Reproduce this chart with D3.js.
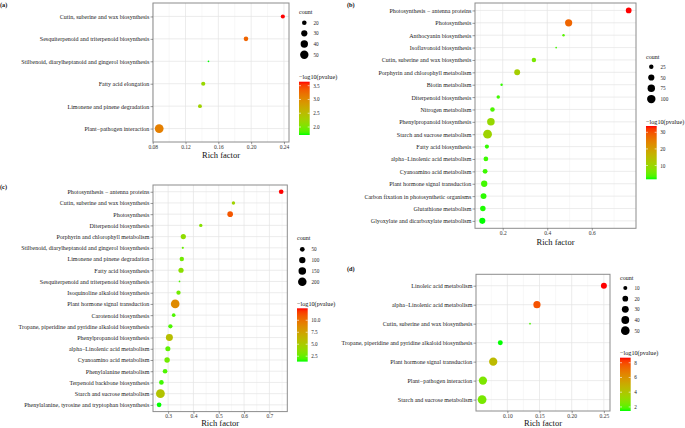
<!DOCTYPE html>
<html><head><meta charset="utf-8">
<script src="https://cdn.jsdelivr.net/npm/d3@7"></script>
<style>
body{margin:0;background:#fff}
svg{display:block;font-family:"Liberation Serif","Times New Roman",serif}
</style>
</head><body>
<svg id="chart" width="685" height="428"></svg>
<script>
// ---------- Panel (a) ----------
const aPathways = ["Cutin, suberine and wax biosynthesis","Sesquiterpenoid and triterpenoid biosynthesis","Stilbenoid, diarylheptanoid and gingerol biosynthesis","Fatty acid elongation","Limonene and pinene degradation","Plant−pathogen interaction"];
const aRich = [0.2386, 0.1937, 0.1480, 0.1416, 0.1376, 0.0879];
const aCount = [18, 20, 13, 18, 17, 55];
const aLogP = [3.645, 3.30, 1.71, 2.20, 2.25, 3.10];
const aXTicks = [0.08, 0.12, 0.16, 0.20, 0.24];
const aXLabels = ["0.08","0.12","0.16","0.20","0.24"];
const aCountBreaks = [20, 30, 40, 50];
const aColorBreaks = [2.0, 2.5, 3.0, 3.5];
const aColorLabels = ["2.0","2.5","3.0","3.5"];

// ---------- Panel (b) ----------
const bPathways = ["Photosynthesis − antenna proteins","Photosynthesis","Anthocyanin biosynthesis","Isoflavonoid biosynthesis","Cutin, suberine and wax biosynthesis","Porphyrin and chlorophyll metabolism","Biotin metabolism","Diterpenoid biosynthesis","Nitrogen metabolism","Phenylpropanoid biosynthesis","Starch and sucrose metabolism","Fatty acid biosynthesis","alpha−Linolenic acid metabolism","Cyanoamino acid metabolism","Plant hormone signal transduction","Carbon fixation in photosynthetic organisms","Glutathione metabolism","Glyoxylate and dicarboxylate metabolism"];
const bRich = [0.7655, 0.4960, 0.4730, 0.4400, 0.3400, 0.2650, 0.1950, 0.1800, 0.1540, 0.1470, 0.1320, 0.1290, 0.1245, 0.1210, 0.1170, 0.1140, 0.1110, 0.1085];
const bCount = [42, 70, 11, 10, 25, 45, 11, 16, 26, 78, 110, 22, 28, 30, 52, 46, 38, 48];
const bLogP = [33.8, 28.0, 4.0, 3.0, 6.5, 11.5, 2.5, 3.0, 3.5, 9.5, 10.5, 2.5, 2.8, 2.8, 3.0, 2.3, 2.0, 1.7];
const bXTicks = [0.2, 0.4, 0.6];
const bXLabels = ["0.2","0.4","0.6"];
const bCountBreaks = [25, 50, 75, 100];
const bColorBreaks = [10, 20, 30];
const bColorLabels = ["10","20","30"];

// ---------- Panel (c) ----------
const cPathways = ["Photosynthesis − antenna proteins","Cutin, suberine and wax biosynthesis","Photosynthesis","Diterpenoid biosynthesis","Porphyrin and chlorophyll metabolism","Stilbenoid, diarylheptanoid and gingerol biosynthesis","Limonene and pinene degradation","Fatty acid biosynthesis","Sesquiterpenoid and triterpenoid biosynthesis","Isoquinoline alkaloid biosynthesis","Plant hormone signal transduction","Carotenoid biosynthesis","Tropane, piperidine and pyridine alkaloid biosynthesis","Phenylpropanoid biosynthesis","alpha−Linolenic acid metabolism","Cyanoamino acid metabolism","Phenylalanine metabolism","Terpenoid backbone biosynthesis","Starch and sucrose metabolism","Phenylalanine, tyrosine and tryptophan biosynthesis"];
const cRich = [0.7466, 0.5580, 0.5450, 0.4290, 0.3600, 0.3580, 0.3540, 0.3510, 0.3450, 0.3410, 0.3280, 0.3220, 0.3090, 0.3050, 0.2990, 0.2960, 0.2880, 0.2735, 0.2696, 0.2644];
const cCount = [48, 24, 75, 24, 62, 14, 42, 62, 13, 40, 205, 28, 40, 125, 58, 68, 48, 48, 215, 50];
const cLogP = [12.5, 4.5, 11.0, 3.5, 3.8, 2.5, 2.8, 3.6, 2.0, 2.8, 8.8, 2.0, 2.0, 5.8, 2.3, 2.8, 2.0, 1.8, 5.5, 1.375];
const cXTicks = [0.3, 0.4, 0.5, 0.6, 0.7];
const cXLabels = ["0.3","0.4","0.5","0.6","0.7"];
const cCountBreaks = [50, 100, 150, 200];
const cColorBreaks = [2.5, 5.0, 7.5, 10.0];
const cColorLabels = ["2.5","5.0","7.5","10.0"];

// ---------- Panel (d) ----------
const dPathways = ["Linoleic acid metabolism","alpha−Linolenic acid metabolism","Cutin, suberine and wax biosynthesis","Tropane, piperidine and pyridine alkaloid biosynthesis","Plant hormone signal transduction","Plant−pathogen interaction","Starch and sucrose metabolism"];
const dRich = [0.2501, 0.1460, 0.1352, 0.0890, 0.0780, 0.0620, 0.0607];
const dCount = [22, 33, 5, 15, 45, 45, 52];
const dLogP = [8.68, 7.8, 1.8, 1.45, 4.5, 2.6, 2.5];
const dXTicks = [0.10, 0.15, 0.20, 0.25];
const dXLabels = ["0.10","0.15","0.20","0.25"];
const dCountBreaks = [10, 20, 30, 40, 50];
const dColorBreaks = [2, 4, 6, 8];
const dColorLabels = ["2","4","6","8"];

// ---------- layout (positions only) ----------
const layouts = [
  {tag:"(a)", tagX:0, tagY:4, left:153, right:289, top:3, bottom:142, titleDy:13.3, legX:299, cntTitleY:12.3, dotY0:22.7, dotStep:10.67, barTitleY:76.7, barTop:81.7,
   pathways:aPathways, rich:aRich, count:aCount, logp:aLogP, xt:aXTicks, xl:aXLabels, cb:aCountBreaks, colb:aColorBreaks, coll:aColorLabels},
  {tag:"(b)", tagX:347, tagY:4, left:475, right:636, top:3, bottom:228.3, titleDy:14, legX:646, cntTitleY:56.7, dotY0:66.7, dotStep:10.8, barTitleY:121.3, barTop:126,
   pathways:bPathways, rich:bRich, count:bCount, logp:bLogP, xt:bXTicks, xl:bXLabels, cb:bCountBreaks, colb:bColorBreaks, coll:bColorLabels},
  {tag:"(c)", tagX:0, tagY:186, left:153, right:287.3, top:185, bottom:411.6, titleDy:11.6, legX:297, cntTitleY:238.3, dotY0:249.3, dotStep:10.8, barTitleY:303.3, barTop:308.3,
   pathways:cPathways, rich:cRich, count:cCount, logp:cLogP, xt:cXTicks, xl:cXLabels, cb:cCountBreaks, colb:cColorBreaks, coll:cColorLabels},
  {tag:"(d)", tagX:347, tagY:268.5, left:476, right:610, top:274.3, bottom:411, titleDy:12, legX:620, cntTitleY:277.7, dotY0:288, dotStep:10.67, barTitleY:352.3, barTop:357.7,
   pathways:dPathways, rich:dRich, count:dCount, logp:dLogP, xt:dXTicks, xl:dXLabels, cb:dCountBreaks, colb:dColorBreaks, coll:dColorLabels}
];

const svg = d3.select("#chart");
const defs = svg.append("defs");
const R_MIN = 0.85, R_MAX = 4.4, BAR_W = 10.7, BAR_H = 53.3;

layouts.forEach((L, pi) => {
  const g = svg.append("g");
  const data = L.pathways.map((p, i) => ({p, x: L.rich[i], n: L.count[i], c: L.logp[i]}));
  const [xmin, xmax] = d3.extent(L.rich);
  const pad = (xmax - xmin) * 0.05;
  const x = d3.scaleLinear().domain([xmin - pad, xmax + pad]).range([L.left, L.right]);
  const y = d3.scalePoint().domain(L.pathways).range([L.top, L.bottom]).padding(0.6);
  const [cmin, cmax] = d3.extent(L.logp);
  const color = d3.scaleLinear().domain([cmin, cmax]).range(["#00ff00", "#ff0000"]).interpolate(d3.interpolateLab);
  const [nmin, nmax] = d3.extent(L.count);
  const rad = v => R_MIN + (R_MAX - R_MIN) * Math.sqrt(Math.max(0, (v - nmin) / (nmax - nmin)));

  // minor grid
  const step = L.xt[1] - L.xt[0];
  const minors = [];
  for (let k = -1; k <= L.xt.length; k++) {
    const v = L.xt[0] + step * (k + 0.5);
    if (v > x.domain()[0] && v < x.domain()[1]) minors.push(v);
  }
  g.selectAll(".minor").data(minors).join("line")
    .attr("x1", d => x(d)).attr("x2", d => x(d)).attr("y1", L.top).attr("y2", L.bottom)
    .attr("stroke", "#f0f0f0").attr("stroke-width", 0.45);
  // major grid
  g.selectAll(".majx").data(L.xt).join("line")
    .attr("x1", d => x(d)).attr("x2", d => x(d)).attr("y1", L.top).attr("y2", L.bottom)
    .attr("stroke", "#e4e4e4").attr("stroke-width", 0.7);
  g.selectAll(".majy").data(L.pathways).join("line")
    .attr("x1", L.left).attr("x2", L.right).attr("y1", d => y(d)).attr("y2", d => y(d))
    .attr("stroke", "#e4e4e4").attr("stroke-width", 0.7);

  // points
  g.selectAll(".pt").data(data).join("circle")
    .attr("cx", d => x(d.x)).attr("cy", d => y(d.p)).attr("r", d => rad(d.n))
    .attr("fill", d => color(d.c));

  // border
  g.append("rect").attr("x", L.left).attr("y", L.top).attr("width", L.right - L.left).attr("height", L.bottom - L.top)
    .attr("fill", "none").attr("stroke", "#8c8c8c").attr("stroke-width", 1);

  // y axis
  const yAxis = d3.axisLeft(y).tickSize(2.5).tickPadding(1.2);
  const ya = g.append("g").attr("transform", `translate(${L.left},0)`).call(yAxis);
  ya.select(".domain").remove();
  ya.selectAll("line").attr("stroke", "#555").attr("stroke-width", 0.6);
  ya.selectAll("text").attr("font-size", 6).attr("fill", "#1a1a1a").attr("font-family", "Liberation Serif, serif");

  // x axis
  const xAxis = d3.axisBottom(x).tickValues(L.xt).tickFormat((d, i) => L.xl[i]).tickSize(2.2).tickPadding(0.8);
  const xa = g.append("g").attr("transform", `translate(0,${L.bottom})`).call(xAxis);
  xa.select(".domain").remove();
  xa.selectAll("line").attr("stroke", "#555").attr("stroke-width", 0.6);
  xa.selectAll("text").attr("font-size", 5.5).attr("fill", "#333").attr("font-family", "Liberation Serif, serif");

  g.append("text").attr("x", (L.left + L.right) / 2).attr("y", L.bottom + L.titleDy)
    .attr("text-anchor", "middle").attr("dominant-baseline", "central")
    .attr("font-size", 8.5).attr("fill", "#111").text("Rich factor");

  // tag
  g.append("text").attr("x", L.tagX).attr("y", L.tagY).attr("dominant-baseline", "central")
    .attr("font-size", 6.3).attr("font-weight", "bold").attr("fill", "#111").text(L.tag);

  // size legend
  g.append("text").attr("x", L.legX).attr("y", L.cntTitleY).attr("dominant-baseline", "central")
    .attr("font-size", 6).attr("fill", "#111").text("count");
  L.cb.forEach((v, i) => {
    const cy = L.dotY0 + i * L.dotStep;
    g.append("circle").attr("cx", L.legX + 5.3).attr("cy", cy).attr("r", rad(v)).attr("fill", "#000");
    g.append("text").attr("x", L.legX + 14.5).attr("y", cy).attr("dominant-baseline", "central")
      .attr("font-size", 5.2).attr("fill", "#222").text(v);
  });

  // colour bar
  g.append("text").attr("x", L.legX).attr("y", L.barTitleY).attr("dominant-baseline", "central")
    .attr("font-size", 6.2).attr("fill", "#111").text("−log10(pvalue)");
  const gid = "grad" + pi;
  const grad = defs.append("linearGradient").attr("id", gid).attr("x1", 0).attr("y1", 1).attr("x2", 0).attr("y2", 0);
  d3.range(0, 1.0001, 0.05).forEach(t => {
    grad.append("stop").attr("offset", t).attr("stop-color", color(cmin + t * (cmax - cmin)));
  });
  g.append("rect").attr("x", L.legX).attr("y", L.barTop).attr("width", BAR_W).attr("height", BAR_H).attr("fill", `url(#${gid})`);
  const cy = d3.scaleLinear().domain([cmin, cmax]).range([L.barTop + BAR_H, L.barTop]);
  L.colb.forEach((v, i) => {
    const yy = cy(v);
    g.append("line").attr("x1", L.legX).attr("x2", L.legX + 2).attr("y1", yy).attr("y2", yy).attr("stroke", "#fff").attr("stroke-width", 0.6);
    g.append("line").attr("x1", L.legX + BAR_W - 2).attr("x2", L.legX + BAR_W).attr("y1", yy).attr("y2", yy).attr("stroke", "#fff").attr("stroke-width", 0.6);
    g.append("text").attr("x", L.legX + BAR_W + 3.5).attr("y", yy).attr("dominant-baseline", "central")
      .attr("font-size", 5.2).attr("fill", "#222").text(L.coll[i]);
  });
});
</script>
</body></html>
